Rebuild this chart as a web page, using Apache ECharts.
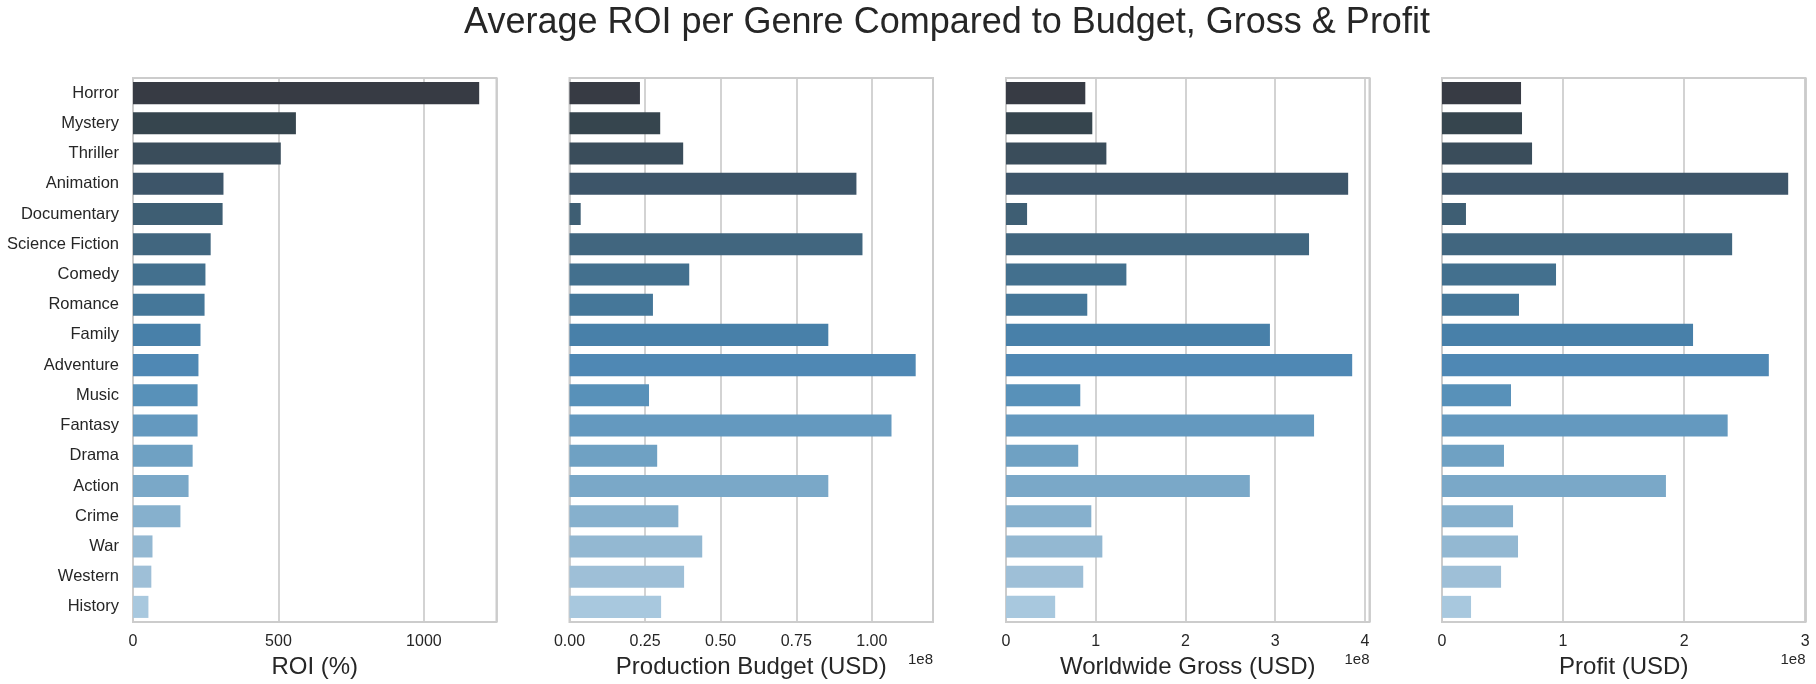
<!DOCTYPE html>
<html>
<head>
<meta charset="utf-8">
<script src="https://cdn.jsdelivr.net/npm/echarts@6/dist/echarts.min.js"></script>
<style>
    body { margin: 0; background: #fff; }
    #chart { width: 1816px; height: 684px; }
</style>
</head>
<body>
<div id="chart"></div>
<script>
// genres, sorted by average ROI (as in the reference)
var genres = ['Horror', 'Mystery', 'Thriller', 'Animation', 'Documentary', 'Science Fiction',
    'Comedy', 'Romance', 'Family', 'Adventure', 'Music', 'Fantasy', 'Drama', 'Action',
    'Crime', 'War', 'Western', 'History'];

// values
var roiPct = [1190, 560, 508, 311, 308, 267, 249, 246, 232, 225, 222, 222, 205, 191, 163, 67, 63, 53];
var budgetUsd = [23.3e6, 30.0e6, 37.6e6, 94.9e6, 3.7e6, 96.9e6, 39.6e6, 27.6e6, 85.6e6,
    114.5e6, 26.3e6, 106.5e6, 29.0e6, 85.6e6, 36.0e6, 43.9e6, 37.9e6, 30.3e6];
var grossUsd = [88.4e6, 96.2e6, 111.9e6, 381.4e6, 23.5e6, 337.8e6, 134.2e6, 90.6e6, 294.2e6,
    385.9e6, 82.8e6, 343.4e6, 80.5e6, 271.8e6, 95.1e6, 107.4e6, 86.1e6, 54.8e6];
var profitUsd = [65.3e6, 66.1e6, 74.4e6, 286.0e6, 19.8e6, 239.7e6, 94.2e6, 63.6e6, 207.4e6,
    270.0e6, 57.0e6, 236.0e6, 51.2e6, 185.0e6, 58.7e6, 62.8e6, 48.8e6, 24.0e6];

var axisNames = ['ROI (%)', 'Production Budget (USD)', 'Worldwide Gross (USD)', 'Profit (USD)'];
var tickSteps = [500, 25e6, 1e8, 1e8];

// Blues_d like palette, dark -> light
var palette = ['#373b44', '#36454e', '#3a4d5b', '#3d5569', '#3e5e73', '#41667f', '#43708e',
    '#457799', '#4880a9', '#4f88b4', '#5891b9', '#6499bf', '#6fa1c3', '#7aa8c8',
    '#86b0cd', '#93b8d2', '#9ebfd7', '#a8c8de'];

var textColor = '#262626';
var lineColor = '#cccccc';
var panelLefts = [133, 569.5, 1006, 1442];
var panelWidth = 363.5;

var chart = echarts.init(document.getElementById('chart'));

function fmtFor(i) {
    var step = tickSteps[i];
    return function(v) {
        var k = v / step;
        if (Math.abs(k - Math.round(k)) > 1e-6) {
            return '';
        }
        if (i === 0) return String(Math.round(v));
        if (i === 1) return (v / 1e8).toFixed(2);
        return (v / 1e8).toFixed(0);
    };
}

var allData = [roiPct, budgetUsd, grossUsd, profitUsd];
var grids = [], xAxes = [], yAxes = [], series = [], graphics = [];

allData.forEach(function(data, i) {
    grids.push({
        left: panelLefts[i],
        top: 78,
        width: panelWidth,
        height: 544,
        show: true,
        borderColor: lineColor,
        borderWidth: 2,
        backgroundColor: '#fff'
    });
    xAxes.push({
        type: 'value',
        gridIndex: i,
        min: 0,
        max: Math.max.apply(null, data) * 1.05,
        interval: tickSteps[i],
        axisLine: { show: false },
        axisTick: { show: false },
        splitLine: { show: true, lineStyle: { color: lineColor, width: 1.7 } },
        axisLabel: {
            formatter: fmtFor(i),
            fontSize: 16,
            color: textColor,
            margin: 12
        },
        name: axisNames[i],
        nameLocation: 'middle',
        nameGap: 27,
        nameTextStyle: { fontSize: 24, color: textColor }
    });
    yAxes.push({
        type: 'category',
        gridIndex: i,
        data: genres,
        inverse: true,
        axisLine: { show: false },
        axisTick: { show: false },
        splitLine: { show: false },
        axisLabel: {
            show: i === 0,
            fontSize: 16.5,
            color: textColor,
            margin: 14
        }
    });
    series.push({
        type: 'bar',
        xAxisIndex: i,
        yAxisIndex: i,
        data: data,
        barCategoryGap: '27%',
        silent: true,
        itemStyle: {
            color: function(p) { return palette[p.dataIndex]; }
        }
    });
    if (i > 0) {
        graphics.push({
            type: 'text',
            right: 1816 - (panelLefts[i] + panelWidth),
            top: 652,
            style: {
                text: '1e8',
                font: '15px "Liberation Sans", Arial, sans-serif',
                fill: textColor
            }
        });
    }
});

var option = {
    animation: false,
    backgroundColor: '#fff',
    textStyle: { fontFamily: '"Liberation Sans", Arial, sans-serif' },
    title: {
        text: 'Average ROI per Genre Compared to Budget, Gross & Profit',
        left: 942,
        top: 0,
        textAlign: 'center',
        textStyle: { fontSize: 36, fontWeight: 'normal', color: textColor }
    },
    grid: grids,
    xAxis: xAxes,
    yAxis: yAxes,
    series: series,
    graphic: graphics
};

chart.setOption(option);
</script>
</body>
</html>
